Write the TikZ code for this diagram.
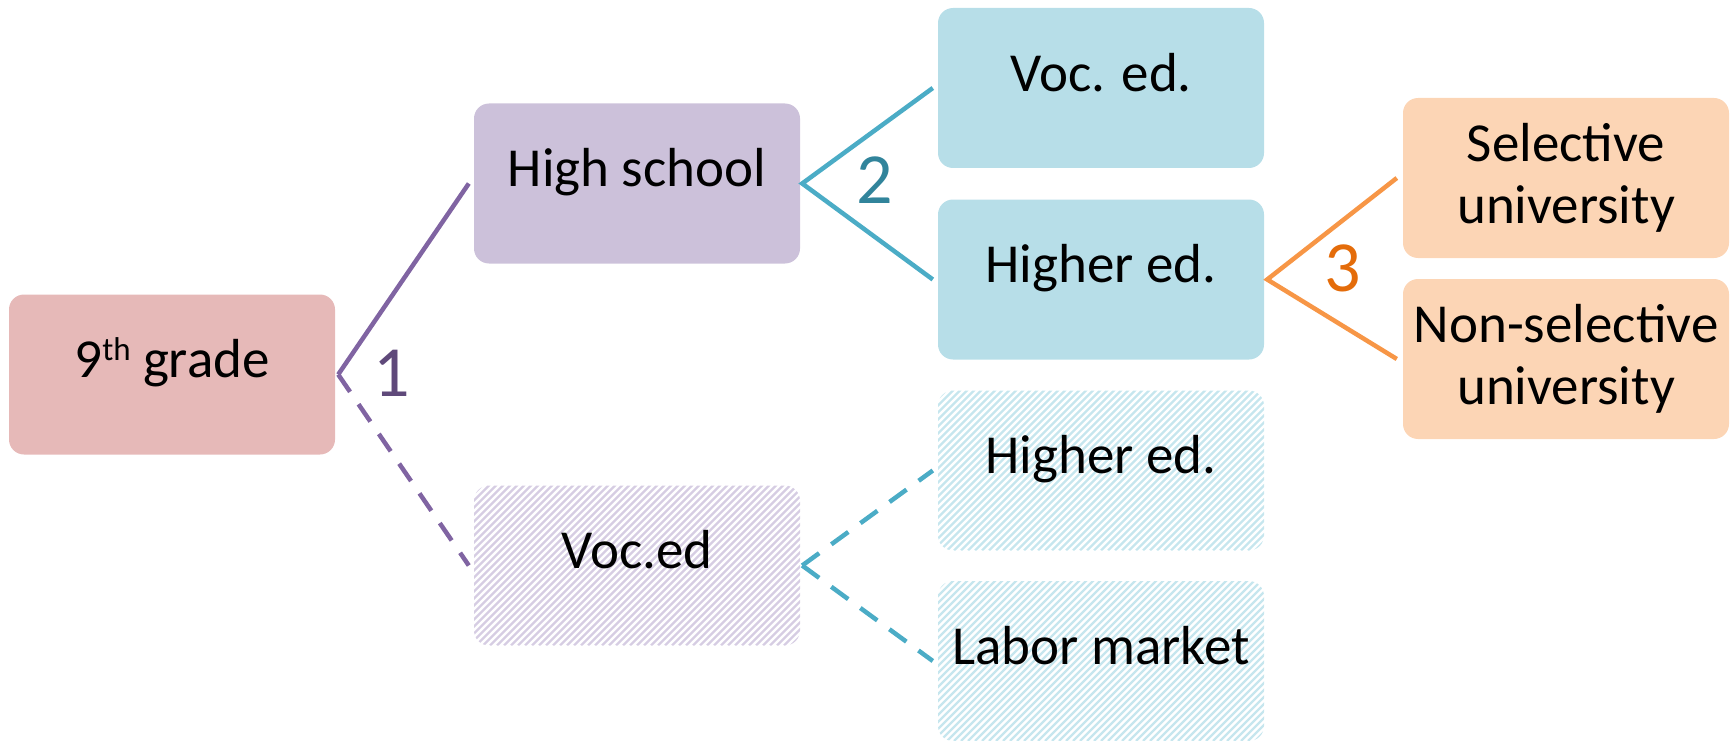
\documentclass[tikz,border=0pt]{standalone}
\usepackage{fontspec}
\setmainfont{Carlito}
\definecolor{gradefill}{HTML}{E6B9B8}
\definecolor{hsfill}{HTML}{CCC1DA}
\definecolor{bluefill}{HTML}{B7DEE8}
\definecolor{orangefill}{HTML}{FCD5B5}
\definecolor{purpleline}{HTML}{8064A2}
\definecolor{tealline}{HTML}{4BACC6}
\definecolor{orangeline}{HTML}{F79646}
\definecolor{purplelabel}{HTML}{5F497A}
\definecolor{teallabel}{HTML}{31849B}
\definecolor{orangelabel}{HTML}{E46C0A}
\definecolor{purplehatch}{HTML}{D6CDE3}
\definecolor{tealhatch}{HTML}{C6E6EE}
\begin{document}
\begin{tikzpicture}[x=1pt,y=-1pt,
  box/.style={rectangle, rounded corners=15pt, minimum width=326pt, minimum height=160pt,
    inner sep=0pt, align=center, font=\fontsize{55}{62}\selectfont},
  oneline/.style={text height=0.64em, text depth=0pt},
  hatchbox/.style={box, path picture={
    \foreach \k in {0,7,...,520}{
      \draw[#1, line width=2.2pt] ([xshift={(\k-180)*1pt}]path picture bounding box.south west) -- ++(200pt,200pt);
    }}},
  solidcon/.style={line width=4.5pt},
  dashcon/.style={line width=4.5pt, dash pattern=on 21pt off 15pt},
  numlabel/.style={inner sep=0pt, font=\fontsize{72}{80}\selectfont}
]
\useasboundingbox (0,0) rectangle (1730,741);

\node[box, oneline, fill=gradefill] (g9) at (172,374.5) {9\raisebox{17pt}{\fontsize{33}{33}\selectfont th} grade};
\node[box, oneline, fill=hsfill] (hs) at (637,183.5) {High school};
\node[hatchbox=purplehatch, oneline] (voc) at (637,565.5) {Voc.ed};

\node[box, oneline, fill=bluefill] (ve) at (1101,88) {Voc. ed.};
\node[box, oneline, fill=bluefill] (he) at (1101,279.5) {Higher ed.};
\node[hatchbox=tealhatch, oneline] (he2) at (1101,470.5) {Higher ed.};
\node[hatchbox=tealhatch, oneline] (lm) at (1101,661) {Labor market};

\node[box, fill=orangefill] (sel) at (1566,178) {Selective\\university};
\node[box, fill=orangefill] (nsel) at (1566,359) {Non-selective\\university};

\draw[solidcon, purpleline] ([xshift=-5pt]hs.west) -- ([xshift=3pt]g9.east);
\draw[dashcon, purpleline] ([xshift=3pt]g9.east) -- ([xshift=-5pt]voc.west);

\draw[solidcon, tealline] ([xshift=-5pt]ve.west) -- ([xshift=2pt]hs.east) -- ([xshift=-5pt]he.west);
\draw[dashcon, tealline] ([xshift=2pt]voc.east) -- ([xshift=-5pt]he2.west);
\draw[dashcon, tealline] ([xshift=2pt]voc.east) -- ([xshift=-5pt]lm.west);

\draw[solidcon, orangeline] ([xshift=-6pt]sel.west) -- ([xshift=3pt]he.east) -- ([xshift=-6pt]nsel.west);

\node[numlabel, text=purplelabel] (n1) at (392,373) {1};
\node[numlabel, text=teallabel] (n2) at (875,180) {2};
\node[numlabel, text=orangelabel] (n3) at (1343,268) {3};
\end{tikzpicture}
\end{document}
